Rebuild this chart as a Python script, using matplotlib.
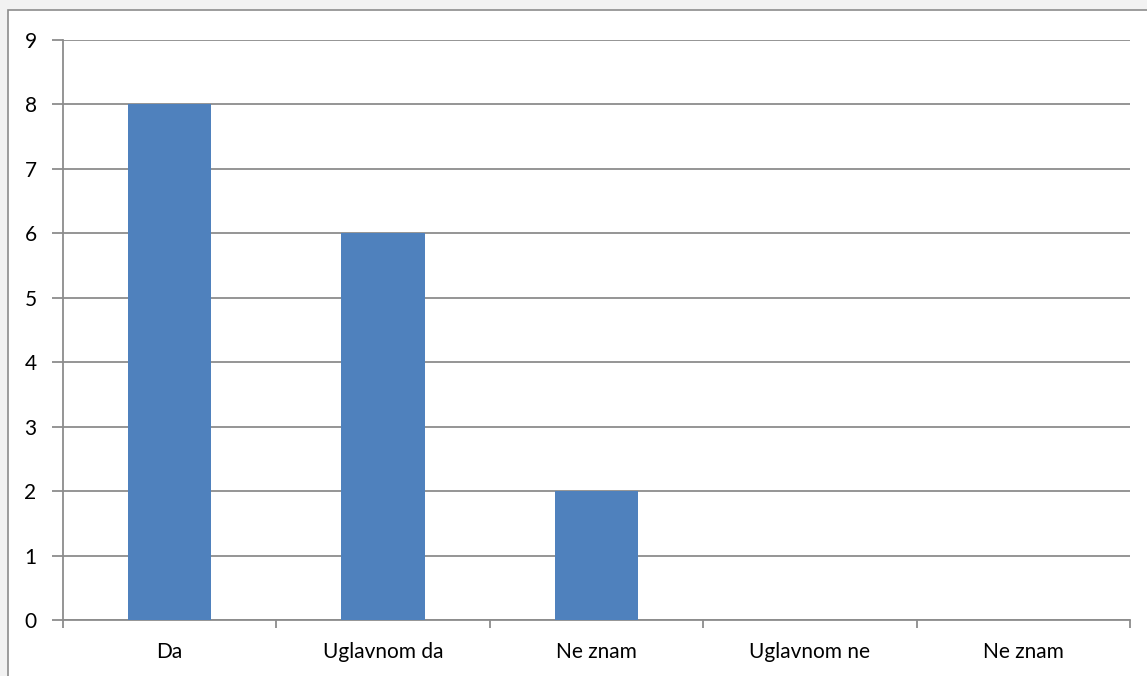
import matplotlib.pyplot as plt
import matplotlib.patches as patches
import numpy as np

categories = ["Da", "Uglavnom da", "Ne znam", "Uglavnom ne", "Ne znam"]
values = [8, 6, 2, 0, 0]

plt.rcParams['font.family'] = ['Lato', 'DejaVu Sans']

fig = plt.figure(figsize=(11.47, 6.76), dpi=100, facecolor='#F2F2F2')

# white chart box with grey border, runs off the right and bottom edges
W, H = 1147, 676
box = patches.Rectangle((8 / W, -0.05), 1.1, (676 - 10) / H + 0.05,
                        transform=fig.transFigure, facecolor='white',
                        edgecolor='#8C8C8C', linewidth=1.2, zorder=-1)
fig.patches.append(box)

ax = fig.add_axes([63 / W, (H - 620) / H, (1130 - 63) / W, (620 - 40) / H])
ax.set_facecolor('none')

x = np.arange(len(categories))
ax.bar(x, values, width=0.39, color='#4F81BD', zorder=3)

ax.set_xlim(-0.5, len(categories) - 0.5)
ax.set_ylim(0, 9)
ax.set_yticks(range(0, 10))
ax.yaxis.grid(True, color='#8C8C8C', linewidth=1.3, zorder=1)

ax.set_xticks(x)
ax.set_xticklabels(categories)
ax.set_xticks(np.arange(-0.5, len(categories)), minor=True)
ax.tick_params(axis='x', which='major', length=0, pad=16, labelsize=15)
ax.tick_params(axis='x', which='minor', length=6, width=1.3, color='#8C8C8C')
ax.tick_params(axis='y', length=8, width=1.3, color='#8C8C8C', pad=11,
               labelsize=15)

for side in ['top', 'right']:
    ax.spines[side].set_visible(False)
for side in ['left', 'bottom']:
    ax.spines[side].set_color('#8C8C8C')
    ax.spines[side].set_linewidth(1.3)

fig.savefig('out.png', dpi=100, facecolor=fig.get_facecolor())
